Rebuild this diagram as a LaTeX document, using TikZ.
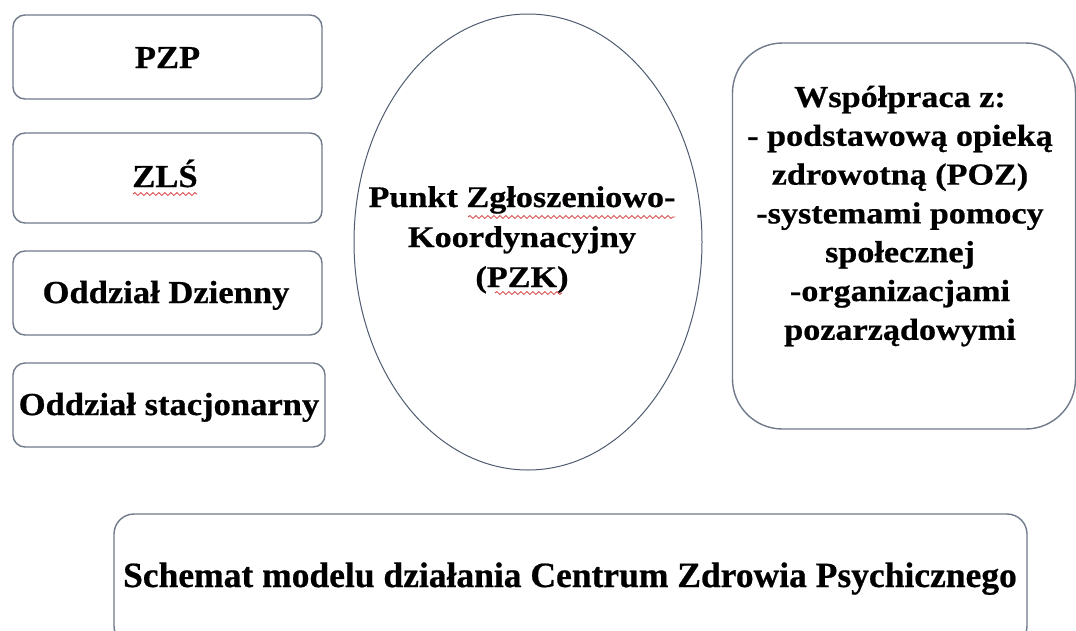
\documentclass[tikz,border=0pt]{standalone}
\usepackage{fontspec}
\setmainfont{Liberation Serif}[BoldFeatures={FakeBold=0.6}]
\usepackage{graphicx}
\usetikzlibrary{shapes.geometric,decorations.pathmorphing}
\definecolor{edgec}{RGB}{112,122,138}
\definecolor{ellc}{RGB}{80,92,112}
\definecolor{squigc}{RGB}{215,60,60}
\newcommand{\hx}[2]{\scalebox{#1}[1]{#2}}
\begin{document}
\begin{tikzpicture}[x=1pt,y=-1pt,
  sbox/.style={draw=edgec, line width=1.4pt, rounded corners=12pt, fill=white, inner sep=0pt},
  bigbox/.style={draw=edgec, line width=1.4pt, rounded corners=50pt, fill=white, inner sep=0pt},
  ell/.style={draw=ellc, line width=1pt, ellipse, fill=white, inner sep=0pt},
  lbl/.style={anchor=base, inner sep=0pt, font=\bfseries\fontsize{32}{38}\selectfont},
  squig/.style={draw=squigc, line width=0.8pt, decorate, decoration={snake, amplitude=1.4pt, segment length=6pt}}
]
\clip (0,0) rectangle (1076,630);
\fill[white] (0,0) rectangle (1076,630);

% left boxes
\node[sbox, minimum width=309pt, minimum height=84pt] (pzp) at (167.5,57) {};
\node[sbox, minimum width=309pt, minimum height=90pt] (zls) at (167.5,178) {};
\node[sbox, minimum width=309pt, minimum height=84pt] (odd) at (167.5,293) {};
\node[sbox, minimum width=312pt, minimum height=84pt] (ods) at (169,405) {};

\node[lbl] (pzpt) at (167.5,68) {\hx{1.08}{PZP}};
\node[lbl] (zlst) at (165,187) {\hx{1.08}{ZLŚ}};
\node[lbl] (oddt) at (166,303) {\hx{1.08}{Oddział Dzienny}};
\node[lbl] (odst) at (169,415) {\hx{1.08}{Oddział stacjonarny}};

% ellipse
\node[ell, minimum width=348pt, minimum height=456pt] (pzk) at (528,242) {};
\node[lbl, font=\bfseries\fontsize{30}{40}\selectfont] (pzkt) at (522,207)
  {\hx{1.14}{\begin{tabular}[t]{@{}c@{}}Punkt Zgłoszeniowo-\\Koordynacyjny\\(PZK)\end{tabular}}};

% right box
\node[bigbox, minimum width=343pt, minimum height=386pt] (coop) at (904,236) {};
\node[lbl, font=\bfseries\fontsize{30.5}{38.8}\selectfont] (coopt) at (900,107)
  {\hx{1.12}{\begin{tabular}[t]{@{}c@{}}Współpraca z:\\- podstawową opieką\\zdrowotną (POZ)\\-systemami pomocy\\społecznej\\-organizacjami\\pozarządowymi\end{tabular}}};

% bottom box
\node[sbox, rounded corners=20pt, minimum width=913pt, minimum height=132pt] (title) at (570.5,580) {};
\node[lbl, font=\bfseries\fontsize{35.5}{40}\selectfont] (titlet) at (570,587)
  {Schemat modelu działania Centrum Zdrowia Psychicznego};

% spell-check squiggles
\draw[squig] (133,194) -- (197,194);
\draw[squig] (468,217) -- (675,217);
\draw[squig] (495,293) -- (562,293);
\end{tikzpicture}
\end{document}
